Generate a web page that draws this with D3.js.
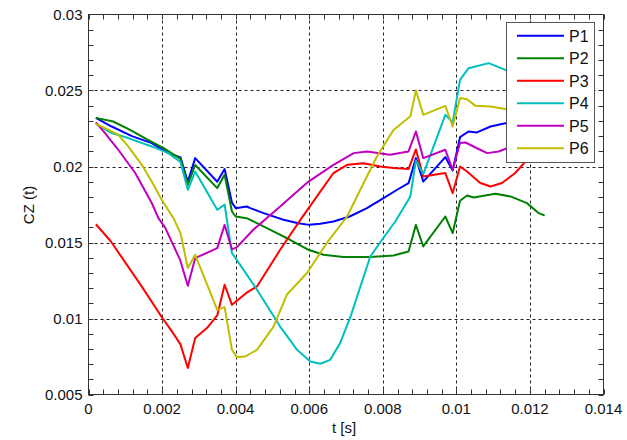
<!DOCTYPE html>
<html>
<head>
<meta charset="utf-8">
<script src="https://cdn.jsdelivr.net/npm/d3@7"></script>
<style>
  html, body { margin: 0; padding: 0; background: #fff; }
  svg { display: block; font-family: "Liberation Sans", Arial, sans-serif; }
</style>
</head>
<body>
<svg id="chart" width="627" height="440"></svg>
<script>
// Axis ticks
const xTicks = [0, 0.002, 0.004, 0.006, 0.008, 0.01, 0.012, 0.014];
const xTickLabels = ["0", "0.002", "0.004", "0.006", "0.008", "0.01", "0.012", "0.014"];
const yTicks = [0.005, 0.01, 0.015, 0.02, 0.025, 0.03];
const yTickLabels = ["0.005", "0.01", "0.015", "0.02", "0.025", "0.03"];

const seriesNames = ["P1", "P2", "P3", "P4", "P5", "P6"];

// [t, CZ] samples per series
const p1 = [[0.0002,0.0232],[0.00063,0.02263],[0.00118,0.0220],[0.00172,0.02154],[0.00217,0.02088],[0.0025,0.0206],
  [0.0027,0.0190],[0.0029,0.02055],[0.0035,0.0190],[0.0037,0.01983],[0.0039,0.01762],[0.0040,0.01726],[0.0043,0.01737],
  [0.0044,0.01726],[0.00476,0.01693],[0.0053,0.0165],[0.0057,0.01627],[0.0060,0.01616],[0.0063,0.01623],[0.00666,0.01638],
  [0.0071,0.01671],[0.00757,0.01726],[0.00802,0.01792],[0.00839,0.01847],[0.0087,0.0189],[0.0089,0.02055],[0.0091,0.01901],
  [0.0097,0.02062],[0.0099,0.01974],[0.0101,0.02193],[0.01033,0.0223],[0.01056,0.02224],[0.01093,0.02263],[0.01133,0.02285],[0.0117,0.0230]];
const p2 = [[0.0002,0.0232],[0.00067,0.02296],[0.00113,0.02241],[0.00158,0.0218],[0.00204,0.02121],[0.0025,0.0205],
  [0.0027,0.0188],[0.0029,0.0201],[0.0035,0.01858],[0.0037,0.01945],[0.0039,0.01704],[0.0040,0.01671],[0.0043,0.0166],
  [0.00458,0.01627],[0.00512,0.01562],[0.00548,0.01518],[0.00598,0.01452],[0.00639,0.01419],[0.00693,0.01404],
  [0.00766,0.01404],[0.00829,0.01414],[0.0087,0.01441],[0.0089,0.01616],[0.0091,0.01474],[0.0097,0.01671],[0.0099,0.01562],
  [0.0101,0.01775],[0.01029,0.01809],[0.01047,0.01796],[0.01106,0.0182],[0.01147,0.01803],[0.01192,0.01759],[0.01224,0.01693],[0.0124,0.01678]];
const p3 = [[0.0002,0.0162],[0.0006,0.0151],[0.00145,0.0121],[0.00199,0.0101],[0.00231,0.0090],[0.0025,0.0083],
  [0.0027,0.00674],[0.0029,0.00871],[0.00322,0.00937],[0.0035,0.0102],[0.0037,0.01222],[0.0039,0.0109],[0.0043,0.0117],
  [0.00458,0.01211],[0.00521,0.01452],[0.00576,0.01649],[0.00621,0.01803],[0.00666,0.01957],[0.00703,0.02011],
  [0.00748,0.02022],[0.00793,0.0200],[0.00829,0.0199],[0.0087,0.01983],[0.0089,0.02112],[0.0091,0.01934],[0.0097,0.01957],
  [0.0099,0.01825],[0.0101,0.0200],[0.01029,0.01967],[0.01065,0.01891],[0.01093,0.01868],[0.01124,0.01891],[0.0116,0.01957],
  [0.01192,0.02044],[0.0122,0.0214]];
const p4 = [[0.0002,0.0228],[0.00063,0.0222],[0.00108,0.02187],[0.00172,0.02132],[0.00217,0.02088],[0.0025,0.0203],
  [0.0027,0.01847],[0.0029,0.01967],[0.0035,0.01715],[0.0037,0.0175],[0.0039,0.0143],[0.00403,0.01386],[0.00458,0.01189],
  [0.00521,0.00947],[0.00567,0.00794],[0.00603,0.00717],[0.0063,0.00702],[0.00657,0.00728],[0.00684,0.00838],[0.00712,0.0101],
  [0.00739,0.0121],[0.00766,0.01408],[0.00798,0.01518],[0.00834,0.01638],[0.00875,0.01803],[0.0089,0.0204],[0.0091,0.01950],
  [0.0097,0.0234],[0.0099,0.0229],[0.0101,0.0257],[0.01033,0.02647],[0.01088,0.0268],[0.01133,0.02636],[0.0116,0.0259]];
const p5 = [[0.0002,0.0229],[0.00045,0.0222],[0.00081,0.0211],[0.00127,0.01957],[0.00172,0.0176],[0.0019,0.0166],
  [0.00208,0.0160],[0.00249,0.01386],[0.0027,0.01215],[0.0029,0.01397],[0.0035,0.01463],[0.0037,0.01616],[0.0039,0.01455],
  [0.00403,0.01468],[0.00448,0.01584],[0.00521,0.01737],[0.00598,0.01901],[0.00666,0.02011],[0.00721,0.02088],[0.00757,0.02099],
  [0.0082,0.02077],[0.0087,0.02099],[0.0089,0.0223],[0.0091,0.02055],[0.0097,0.0211],[0.0099,0.01978],[0.0101,0.02154],
  [0.01025,0.02158],[0.01056,0.0212],[0.01084,0.02088],[0.01115,0.02099],[0.01138,0.0212],[0.0117,0.0214]];
const p6 = [[0.0002,0.0228],[0.00045,0.02253],[0.00081,0.02209],[0.00108,0.02132],[0.00145,0.02011],[0.00172,0.01901],
  [0.00199,0.01781],[0.00231,0.0166],[0.0025,0.01562],[0.0027,0.01332],[0.0029,0.01419],[0.0035,0.01057],[0.0037,0.01075],
  [0.0039,0.00794],[0.00403,0.00746],[0.00426,0.0075],[0.00458,0.00794],[0.00503,0.00947],[0.00539,0.01156],[0.00594,0.01299],
  [0.00648,0.01497],[0.00703,0.01671],[0.00748,0.01891],[0.00784,0.02066],[0.00829,0.0224],[0.00875,0.0233],[0.0089,0.0250],
  [0.0091,0.0234],[0.0097,0.02399],[0.0099,0.02263],[0.0101,0.0245],[0.01029,0.02443],[0.01052,0.02399],[0.01093,0.02395],
  [0.01133,0.02378],[0.0117,0.0237]];

const seriesData = [p1, p2, p3, p4, p5, p6];
const seriesColors = ["#0000ff", "#008000", "#ff0000", "#00bfbf", "#bf00bf", "#bfbf00"];

const svg = d3.select("#chart");
const plotLeft = 88.5, plotRight = 603.5, plotTop = 14.5, plotBottom = 394.5;

const x = d3.scaleLinear().domain([0, 0.014]).range([plotLeft, plotRight]);
const y = d3.scaleLinear().domain([0.005, 0.03]).range([plotBottom, plotTop]);

// Grid (major ticks only, dotted)
const grid = svg.append("g").attr("stroke", "#222").attr("stroke-width", 1).attr("stroke-dasharray", "3,3");
xTicks.slice(1, -1).forEach(t => {
  const px = Math.round(x(t)) + 0.5;
  grid.append("line").attr("x1", px).attr("x2", px).attr("y1", plotTop).attr("y2", plotBottom);
});
yTicks.slice(1, -1).forEach(v => {
  const py = Math.round(y(v)) + 0.5;
  grid.append("line").attr("x1", plotLeft).attr("x2", plotRight).attr("y1", py).attr("y2", py);
});

// Series lines
const line = d3.line().x(d => x(d[0])).y(d => y(d[1]));
const plot = svg.append("g");
seriesData.forEach((s, i) => {
  plot.append("path").datum(s)
    .attr("d", line)
    .attr("fill", "none")
    .attr("stroke", seriesColors[i])
    .attr("stroke-width", 2)
    .attr("stroke-linejoin", "round");
});

// Ticks inside the box on all four sides
const tickLen = 5;
const ticks = svg.append("g").attr("stroke", "#333").attr("stroke-width", 1);
const xMinor = d3.range(0, 0.01400001, 0.0004);
xMinor.forEach(t => {
  const px = Math.round(x(t)) + 0.5;
  ticks.append("line").attr("x1", px).attr("x2", px).attr("y1", plotBottom).attr("y2", plotBottom - tickLen);
  ticks.append("line").attr("x1", px).attr("x2", px).attr("y1", plotTop).attr("y2", plotTop + tickLen);
});
const yMinor = d3.range(0.005, 0.03000001, 0.001);
yMinor.forEach(v => {
  const py = Math.round(y(v)) + 0.5;
  ticks.append("line").attr("x1", plotLeft).attr("x2", plotLeft + tickLen).attr("y1", py).attr("y2", py);
  ticks.append("line").attr("x1", plotRight).attr("x2", plotRight - tickLen).attr("y1", py).attr("y2", py);
});

// Box
svg.append("rect").attr("x", plotLeft).attr("y", plotTop).attr("width", plotRight - plotLeft).attr("height", plotBottom - plotTop)
  .attr("fill", "none").attr("stroke", "#333").attr("stroke-width", 1);

// Tick labels
const labels = svg.append("g").attr("font-size", 15).attr("fill", "#111");
xTicks.forEach((t, i) => {
  labels.append("text").attr("x", x(t)).attr("y", 414).attr("text-anchor", "middle").text(xTickLabels[i]);
});
yTicks.forEach((v, i) => {
  labels.append("text").attr("x", plotLeft - 6).attr("y", y(v) + 5).attr("text-anchor", "end").text(yTickLabels[i]);
});

// Axis titles
svg.append("text").attr("x", 344).attr("y", 433).attr("text-anchor", "middle")
  .attr("font-size", 15).attr("fill", "#111").text("t [s]");
svg.append("text").attr("transform", "translate(34,205) rotate(-90)").attr("text-anchor", "middle")
  .attr("font-size", 15).attr("fill", "#111").text("CZ (t)");

// Legend
const lg = svg.append("g");
lg.append("rect").attr("x", 506.5).attr("y", 22.5).attr("width", 88).attr("height", 140)
  .attr("fill", "#fff").attr("stroke", "#555").attr("stroke-width", 1);
seriesNames.forEach((name, i) => {
  const cy = 35.7 + i * 22.5;
  lg.append("line").attr("x1", 517).attr("x2", 564).attr("y1", cy).attr("y2", cy)
    .attr("stroke", seriesColors[i]).attr("stroke-width", 2);
  lg.append("text").attr("x", 569).attr("y", cy + 6).attr("font-size", 16).attr("fill", "#111").text(name);
});
</script>
</body>
</html>
